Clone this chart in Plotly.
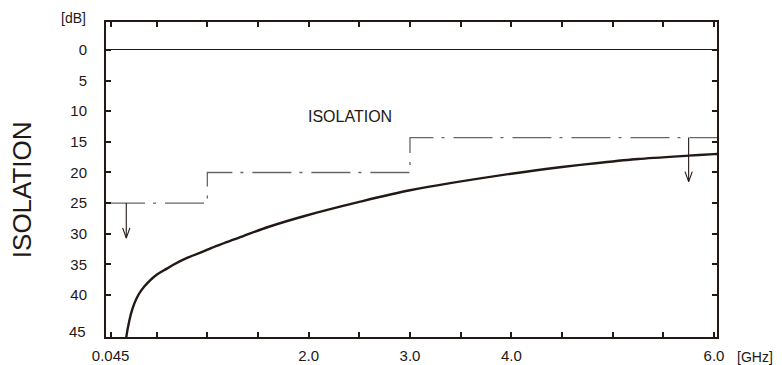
import plotly.graph_objects as go

# measured isolation curve (GHz, dB)
freq_ghz = [0.197, 0.2, 0.23, 0.26, 0.30, 0.35, 0.43, 0.5, 0.6, 0.66, 0.8, 0.98, 1.1, 1.36,
            1.6, 1.96, 2.5, 3.0, 4.0, 4.5, 4.88, 5.25, 5.75, 6.0, 6.03]
isolation_db = [47.5, 46.9, 44.2, 42.3, 40.6, 39.2, 37.7, 36.7, 35.7, 35.1, 33.95, 32.75, 31.95, 30.35,
                28.9, 27.1, 24.8, 22.9, 20.2, 19.1, 18.4, 17.8, 17.25, 17.0, 16.97]

# specification limit (step line)
spec_f = [0.0, 1.0, 1.0, 3.0, 3.0, 6.03]
spec_db = [25, 25, 20, 20, 14.3, 14.3]

# arrows below the limit
arrow_f = [0.2, 5.75]
arrow_top = [25, 14.3]
arrow_tip = [30.7, 21.5]

x_ticks = [0.045, 0.5, 1.0, 1.5, 2.0, 2.5, 3.0, 3.5, 4.0, 4.5, 5.0, 5.5, 6.0]
x_text = ["0.045", "", "", "", "2.0", "", "3.0", "", "4.0", "", "", "", "6.0"]
y_ticks = [0, 5, 10, 15, 20, 25, 30, 35, 40]

INK = "#231815"
GREY = "#666666"
FONT = "Liberation Sans, Arial, sans-serif"

fig = go.Figure()

fig.add_trace(go.Scatter(
    x=spec_f, y=spec_db, mode="lines",
    line=dict(color=GREY, width=1.3, dash="39px,8px,3px,9px"),
    hoverinfo="skip", showlegend=False,
))

# arrow shafts and open V heads
head_dx, head_dy = 0.036, 1.65
for f, top, tip in zip(arrow_f, arrow_top, arrow_tip):
    fig.add_trace(go.Scatter(
        x=[f, f, None, f - head_dx, f, f + head_dx],
        y=[top, tip, None, tip - head_dy, tip, tip - head_dy],
        mode="lines", line=dict(color=INK, width=1.1),
        hoverinfo="skip", showlegend=False,
    ))

fig.add_trace(go.Scatter(
    x=freq_ghz, y=isolation_db, mode="lines",
    line=dict(color=INK, width=2.4, shape="spline", smoothing=0.8),
    showlegend=False,
))

fig.add_annotation(x=2.41, y=10.9, text="ISOLATION", showarrow=False,
                   font=dict(size=16, color=INK, family=FONT))
fig.add_annotation(xref="paper", yref="paper", x=-0.054, y=1.0, xanchor="center",
                   yanchor="bottom", yshift=-6, text="[dB]", showarrow=False,
                   font=dict(size=14, color=INK, family=FONT))
fig.add_annotation(xref="paper", yref="paper", x=1.0, y=0, xanchor="left", yanchor="top",
                   xshift=18, yshift=-10, text="[GHz]", showarrow=False,
                   font=dict(size=14, color=INK, family=FONT))
fig.add_annotation(xref="paper", yref="paper", x=0.0, y=0.0, xanchor="right",
                   yanchor="middle", xshift=-18, yshift=6, text="45", showarrow=False,
                   font=dict(size=15, color=INK, family=FONT))
fig.add_annotation(xref="paper", yref="paper", x=-0.137, y=0.467, xanchor="center",
                   yanchor="middle", textangle=-90, text="ISOLATION", showarrow=False,
                   font=dict(size=26, color=INK, family=FONT))

fig.update_layout(
    width=782, height=365,
    margin=dict(l=106, r=65, t=22, b=28, autoexpand=False),
    paper_bgcolor="#FFFFFF", plot_bgcolor="#FFFFFF",
    font=dict(family=FONT, size=15, color=INK),
    xaxis=dict(range=[0, 6.03], tickvals=x_ticks, ticktext=x_text,
               showgrid=False, zeroline=False, showline=True, linecolor=INK,
               linewidth=2, mirror="ticks", ticks="inside", ticklen=5,
               tickwidth=1.6, tickcolor=INK, ticklabelstandoff=4),
    yaxis=dict(range=[46.86, -4.57], tickvals=y_ticks, showgrid=False,
               zeroline=True, zerolinecolor=INK, zerolinewidth=1.2,
               showline=True, linecolor=INK, linewidth=2, mirror="ticks",
               ticks="inside", ticklen=5, tickwidth=1.6, tickcolor=INK,
               ticklabelstandoff=14),
)

fig.write_html("out.html", config={"displayModeBar": False},
               post_script="document.body.style.margin='0';")
